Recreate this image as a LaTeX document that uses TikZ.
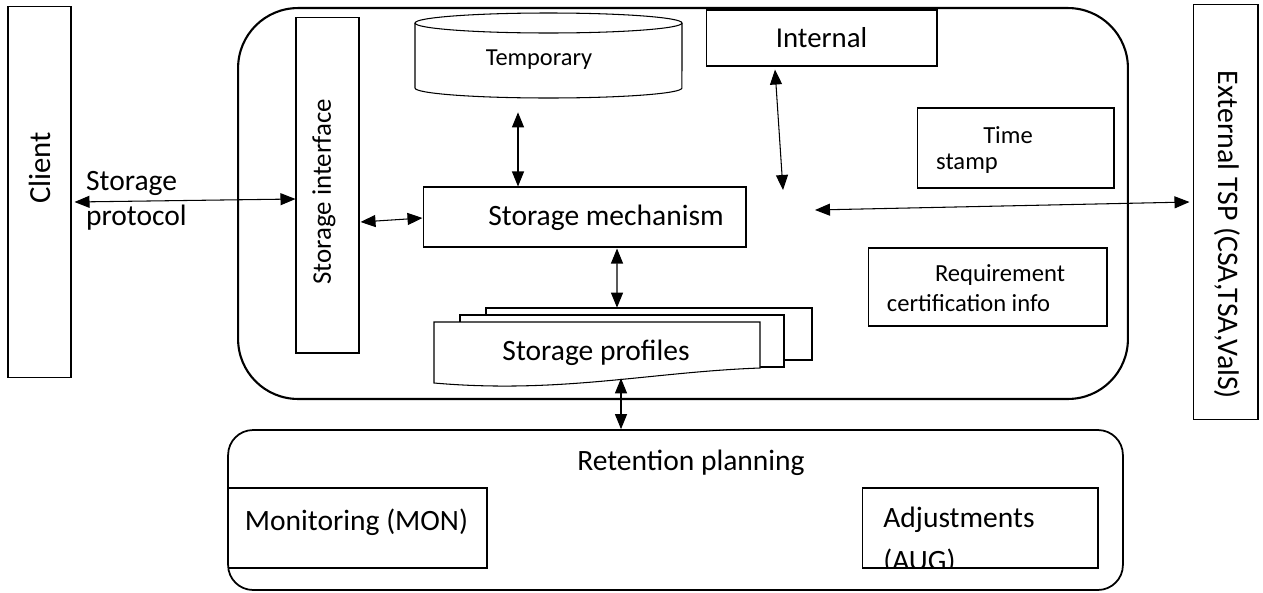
\documentclass[tikz,border=0pt]{standalone}
\usepackage{fontspec}
\setmainfont{Carlito}
\usetikzlibrary{arrows.meta,positioning,calc}
\tikzset{
  >={Triangle[length=3mm,width=2.4mm]},
  box/.style={rectangle, draw, line width=0.6pt, inner sep=0pt},
  link/.style={<->, line width=0.6pt},
  lbl/.style={font=\fontsize{14}{16.5}\selectfont, inner sep=0pt},
  big/.style={font=\fontsize{16.8}{19.8}\selectfont, inner sep=0pt}
}
\begin{document}
\begin{tikzpicture}[x=0.02cm, y=-0.02cm,
    % shapes for this figure
    group/.style={rectangle, draw, rounded corners=1.2cm, line width=1.2pt, inner sep=0pt},
    plan/.style={rectangle, draw, rounded corners=0.5cm, line width=1pt, inner sep=0pt},
    sheet/.style={line width=0.6pt, fill=white}
]
\useasboundingbox (0,0) rectangle (1263,592);

% --- Outer parts ---
\node[box, minimum width=1.26cm, minimum height=7.44cm] (client) at (39.5,192) {};
\node[font=\fontsize{17.5}{20}\selectfont, inner sep=0pt, rotate=90] (clientTxt) at (40,168) {Client};
\node[box, minimum width=1.3cm, minimum height=8.32cm] (ext) at (1225.5,212) {};
\node[font=\fontsize{17}{20}\selectfont, inner sep=0pt, rotate=-90] (extTxt) at (1227,235) {External TSP (CSA,TSA,ValS)};

% --- Storage group ---
\node[group, minimum width=17.8cm, minimum height=7.82cm] (store) at (683,203.5) {};
\node[box, minimum width=1.26cm, minimum height=6.72cm] (iface) at (327.5,185) {};
\node[font=\fontsize{15.3}{18}\selectfont, inner sep=0pt, rotate=90] (ifaceTxt) at (324,192) {Storage interface};

% temporary store (cylinder)
\node[minimum width=5.34cm, minimum height=1.7cm, inner sep=0pt] (tmp) at (548.5,55.5) {};
\draw[line width=0.6pt] (415,23) -- (415,88)
    arc[start angle=180, end angle=360, x radius=2.67cm, y radius=0.2cm] -- (682,23);
\draw[line width=0.6pt] (548.5,23) ellipse[x radius=2.67cm, y radius=0.2cm];
\node[font=\fontsize{13.9}{16}\selectfont, inner sep=0pt] (tmpTxt) at (539,60) {Temporary};

\node[box, font=\fontsize{16.4}{19}\selectfont, minimum width=4.62cm, minimum height=1.12cm] (internal) at (821.5,38) {Internal};
\node[box, minimum width=6.46cm, minimum height=1.2cm] (mech) at (584.5,217) {};
\node[big] (mechTxt) at (606,218) {Storage mechanism};

\node[box, minimum width=3.94cm, minimum height=1.6cm] (stamp) at (1015.5,148) {};
\node[lbl] (timeTxt) at (1008,135) {Time};
\node[lbl] (stampTxt) at (967,164) {stamp};
\node[box, minimum width=4.78cm, minimum height=1.56cm] (req) at (987.5,287) {};
\node[lbl] (reqTxt) at (1000,275) {Requirement};
\node[lbl] (certTxt) at (968.5,303) {certification info};

% storage profiles (stacked documents)
\draw[sheet] (486,308) rectangle (812,360);
\draw[sheet] (460,315) rectangle (784,367);
\draw[sheet] (434,322) -- (760,322) -- (760,368)
    .. controls (650,372) and (560,394) .. (434,383) -- cycle;
\node[minimum width=7.56cm, minimum height=1.54cm, inner sep=0pt] (stack) at (623,346.5) {};
\node[big] (stackTxt) at (596,353) {Storage profiles};

% --- Retention planning ---
\node[plan, minimum width=17.9cm, minimum height=3.2cm] (ret) at (675.5,510) {};
\node[big] (retTxt) at (691,463) {Retention planning};
\node[box, minimum width=5.18cm, minimum height=1.6cm] (mon) at (357.5,528) {};
\node[big] (monTxt) at (356.5,522) {Monitoring (MON)};
\node[box, minimum width=4.72cm, minimum height=1.6cm] (adj) at (980,528) {};
\node[big, anchor=base west] (adjTxt) at (883,527) {Adjustments};
\begin{scope}
  \clip (adj.north west) rectangle (adj.south east);
  \node[big, anchor=base west] (augTxt) at (883,570) {(AUG)};
\end{scope}

% --- Connectors ---
\coordinate (hubA) at (783,190);
\coordinate (hubB) at (815,210);
\draw[link] ($(client.east)+(3,10)$) -- ($(iface.west)+(0,14)$)
    node[pos=0.05, anchor=west, big, align=left, yshift=0.02cm] {Storage\\protocol};
\draw[link] ($(iface.east)+(1,37)$) -- ($(mech.west)+(0,1)$);
\draw[link] ($(tmp.south)+(-30.5,14)$) -- ($(mech.north)+(-66.5,0)$);
\draw[link] ($(internal.south)+(-46.5,3)$) -- (hubA);
\draw[link] (hubB) -- ($(ext.west)+(-3,-10)$);
\draw[link] ($(mech.south)+(32.5,1)$) -- ($(stack.north)+(-6,0)$);
\draw[link] ($(stack.south)+(-2,-7)$) -- ($(ret.north)+(-54.5,0)$);

\end{tikzpicture}
\end{document}
